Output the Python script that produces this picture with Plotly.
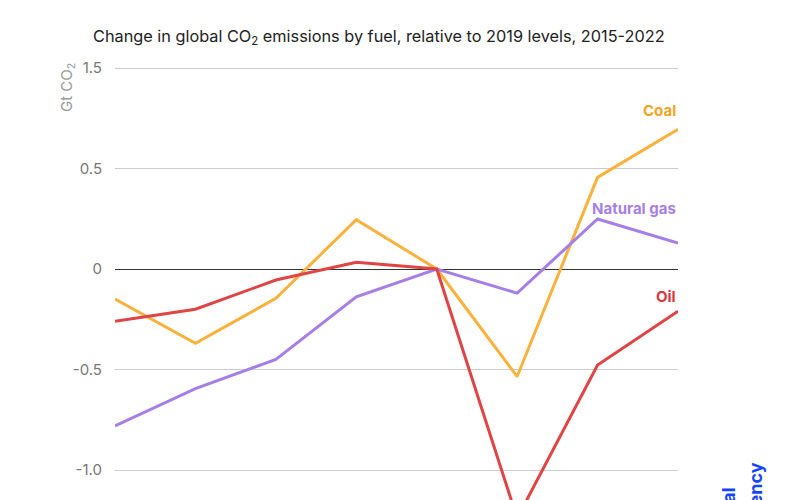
import plotly.graph_objects as go

# ---------------------------------------------------------------------------
# Data (Gt CO2, change relative to 2019)
# ---------------------------------------------------------------------------

years = [2015, 2016, 2017, 2018, 2019, 2020, 2021, 2022]
coal = [-0.15, -0.37, -0.146, 0.245, 0.0, -0.535, 0.456, 0.695]
natural_gas = [-0.78, -0.595, -0.45, -0.138, 0.0, -0.12, 0.249, 0.129]
oil = [-0.26, -0.20, -0.055, 0.033, 0.0, -1.24, -0.478, -0.21]

tick_vals = [1.0, 0.5, 0, -0.5, -1.0]
tick_text = ['1.5', '0.5', '0', '-0.5', '-1.0']

FONT = 'Inter'

# the page body adds an 8px offset, so layout is placed in figure pixels
OFF = 8
PLOT_L, PLOT_R, PLOT_T, PLOT_B = 115 - OFF, 678 - OFF, 60 - OFF, 500
PLOT_W = PLOT_R - PLOT_L
PLOT_H = PLOT_B - PLOT_T


def px_x(sx):
    """screen x -> paper x"""
    return (sx - OFF - PLOT_L) / PLOT_W


def px_y(sy):
    """screen y -> paper y"""
    return (PLOT_B - (sy - OFF)) / PLOT_H


series = [
    ('Coal', coal, '#fbb13c', '#f0a51e'),
    ('Natural gas', natural_gas, '#a67fe6', '#a67fe6'),
    ('Oil', oil, '#e04444', '#d9363e'),
]

fig = go.Figure()

for name, vals, line_col, _ in series:
    fig.add_trace(go.Scatter(
        x=years,
        y=vals,
        mode='lines',
        name=name,
        line=dict(color=line_col, width=3),
        hoverinfo='skip',
    ))

# Series labels at the right end
label_y = {'Coal': 110, 'Natural gas': 208, 'Oil': 296}
for name, vals, _, text_col in series:
    fig.add_annotation(
        x=2022, xref='x', xanchor='right',
        y=px_y(label_y[name]), yref='paper', yanchor='middle',
        text='<b>%s</b>' % name,
        showarrow=False,
        font=dict(family=FONT, size=15, color=text_col),
    )

# y-axis title
fig.add_annotation(
    x=px_x(67), xref='paper', xanchor='center',
    y=px_y(88), yref='paper', yanchor='middle',
    text='Gt CO<sub>2</sub>',
    textangle=-90,
    showarrow=False,
    font=dict(family=FONT, size=15, color='#999999'),
)

# IEA wordmark (cut off at the bottom edge), one annotation per line
for line_text, sx, sy in [('International', 728, 485), ('Energy Agency', 755, 460)]:
    fig.add_annotation(
        x=px_x(sx), xref='paper', xanchor='center',
        y=px_y(sy), yref='paper', yanchor='top',
        text='<b>%s</b>' % line_text,
        textangle=-90,
        showarrow=False,
        font=dict(family=FONT, size=18, color='#1446ff'),
    )

fig.update_layout(
    width=800,
    height=500,
    paper_bgcolor='white',
    plot_bgcolor='white',
    showlegend=False,
    margin=dict(l=PLOT_L, r=800 - PLOT_R, t=PLOT_T, b=0),
    title=dict(
        text='Change in global CO<sub>2</sub> emissions by fuel, relative to 2019 levels, 2015-2022',
        x=(93 - OFF) / 800, xanchor='left', xref='container',
        y=1 - (36 - OFF) / 500, yanchor='middle', yref='container',
        font=dict(family=FONT, size=16.3, color='#222222'),
    ),
    xaxis=dict(
        range=[2015, 2022],
        showgrid=False,
        zeroline=False,
        showticklabels=False,
        showline=False,
        fixedrange=True,
    ),
    yaxis=dict(
        range=[(269 - 508) / 201, (269 - 60) / 201],
        tickvals=tick_vals,
        ticktext=tick_text,
        showgrid=True,
        gridcolor='#cccccc',
        gridwidth=1,
        zeroline=True,
        zerolinecolor='#333333',
        zerolinewidth=1,
        showline=False,
        ticklabelstandoff=12,
        tickfont=dict(family=FONT, size=15, color='#777777'),
        fixedrange=True,
    ),
)

fig.write_html('out.html')
